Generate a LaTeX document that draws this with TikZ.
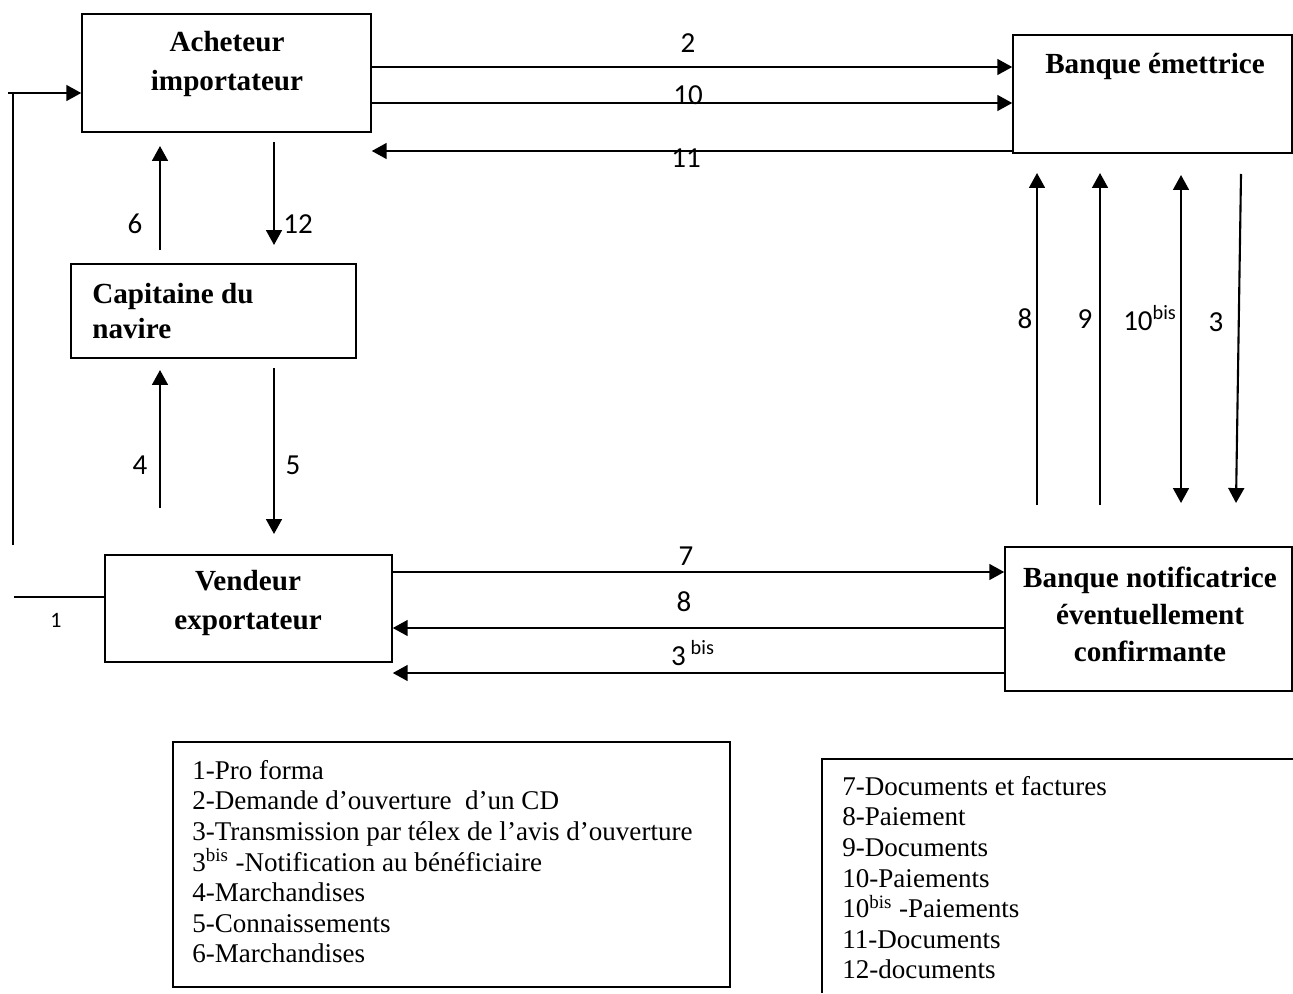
\documentclass[tikz,border=0pt]{standalone}
\usepackage{fontspec}
\setmainfont{Liberation Serif}
\newfontfamily\lblfont{Carlito}
\usetikzlibrary{arrows.meta,calc,positioning}

\tikzset{
  box/.style={draw, line width=0.9pt, inner sep=0pt},
  boxtxt/.style={font=\fontsize{16.6}{22.5}\selectfont\bfseries, align=center, inner sep=0pt},
  link/.style={line width=1.2pt},
  flow/.style={link, -{Triangle[length=8.5pt,width=9pt]}},
  num/.style={font=\lblfont\fontsize{16.5}{18}\selectfont, inner sep=0pt},
  legend/.style={font=\fontsize{15.4}{17.4}\selectfont, align=left, inner sep=0pt, anchor=north west}
}

\begin{document}
\begin{tikzpicture}[x=0.02cm, y=-0.02cm]
  \useasboundingbox (0,0) rectangle (1293,993);

  % the parties
  \node[box, minimum width=5.78cm, minimum height=2.36cm] (ach) at (226.5,73) {};
  \node[box, minimum width=5.58cm, minimum height=2.36cm] (bem) at (1152.5,94) {};
  \node[box, minimum width=5.70cm, minimum height=1.88cm] (cap) at (213.5,311) {};
  \node[box, minimum width=5.74cm, minimum height=2.14cm] (vend) at (248.5,608.5) {};
  \node[box, minimum width=5.74cm, minimum height=2.88cm] (bnot) at (1148.5,619) {};

  \node[boxtxt] (achT) at (227,64) {Acheteur\\importateur};
  \node[boxtxt] (bemT) at (1155,66) {Banque émettrice};
  \node[boxtxt, align=left, anchor=west, font=\fontsize{16.6}{20.4}\selectfont\bfseries] (capT) at (92,311) {Capitaine du\\navire};
  \node[boxtxt] (vendT) at (248,603) {Vendeur\\exportateur};
  \node[boxtxt, font=\fontsize{16.6}{21}\selectfont\bfseries] (bnotT) at (1150,614) {Banque notificatrice\\éventuellement\\confirmante};

  % buyer <-> issuing bank
  \coordinate (y2) at (0,67);
  \coordinate (y10) at (0,103);
  \coordinate (y11) at (0,151);
  \draw[flow] (ach.east |- y2) -- (bem.west |- y2);
  \draw[flow] (ach.east |- y10) -- (bem.west |- y10);
  \draw[flow] (bem.west |- y11) -- (ach.east |- y11);
  \node[num] (n2) at (688,43) {2};
  \node[num] (n10) at (688,95) {10};
  \node[num] (n11) at (686,158) {11};

  % seller <-> notifying bank
  \coordinate (y7) at (0,572);
  \coordinate (y8) at (0,628);
  \coordinate (y3b) at (0,673);
  \draw[flow] (vend.east |- y7) -- (bnot.west |- y7);
  \draw[flow] (bnot.west |- y8) -- (vend.east |- y8);
  \draw[flow] (bnot.west |- y3b) -- (vend.east |- y3b);
  \node[num] (n7) at (686,556) {7};
  \node[num] (n8) at (684,602) {8};
  \node[num] (n3b) at (693,653) {3\,\textsuperscript{bis}};

  % pro forma, seller -> buyer
  \coordinate (k1) at (13,545);
  \coordinate (k0) at (8,93);
  \coordinate (k2) at (14,597);
  \draw[link] (k1) -- (k1 |- k0);
  \draw[flow] (k0) -- (ach.west |- k0);
  \draw[line width=0.9pt] (k2) -- (vend.west |- k2);
  \node[num, font=\lblfont\fontsize{12.5}{14}\selectfont] (n1) at (56,620) {1};

  % goods and bills of lading
  \coordinate (d6) at (160,250);
  \coordinate (d12) at (274,142);
  \coordinate (d4) at (160,508);
  \coordinate (d5) at (274,368);
  \draw[flow] (d6) -- ++(0,-104);
  \draw[flow] (d12) -- ++(0,103);
  \draw[flow] (d4) -- ++(0,-138);
  \draw[flow] (d5) -- ++(0,166);
  \node[num] (n6) at (135,224) {6};
  \node[num] (n12) at (298,224) {12};
  \node[num] (n4) at (140,465) {4};
  \node[num] (n5) at (293,465) {5};

  % between the two banks
  \coordinate (b8) at (1037,505);
  \coordinate (b9) at (1100,505);
  \coordinate (b10) at (1181,175);
  \coordinate (b3) at (1241,174);
  \draw[flow] (b8) -- ++(0,-332);
  \draw[flow] (b9) -- ++(0,-332);
  \draw[flow, {Triangle[length=8.5pt,width=9pt]}-{Triangle[length=8.5pt,width=9pt]}] (b10) -- ++(0,328);
  \draw[flow] (b3) -- ++(-5,329);
  \node[num] (v8) at (1025,319) {8};
  \node[num] (v9) at (1085,319) {9};
  \node[num] (v10) at (1150,318) {10\textsuperscript{bis}};
  \node[num] (v3) at (1216,322) {3};

  % legends
  \node[box, minimum width=11.14cm, minimum height=4.9cm] (leg1) at (451.5,864.5) {};
  \node[legend] (leg1T) at (192,760) {1-Pro forma\\
    2-Demande d’ouverture\ \ d’un CD\\
    3-Transmission par télex de l’avis d’ouverture\\
    3\textsuperscript{bis} -Notification au bénéficiaire\\
    4-Marchandises\\
    5-Connaissements\\
    6-Marchandises};
  \draw[line width=0.9pt] (1293,759) -| (822,993);
  \node[legend] (leg2T) at (842,776) {7-Documents et factures\\
    8-Paiement\\
    9-Documents\\
    10-Paiements\\
    10\textsuperscript{bis} -Paiements\\
    11-Documents\\
    12-documents};
\end{tikzpicture}
\end{document}
